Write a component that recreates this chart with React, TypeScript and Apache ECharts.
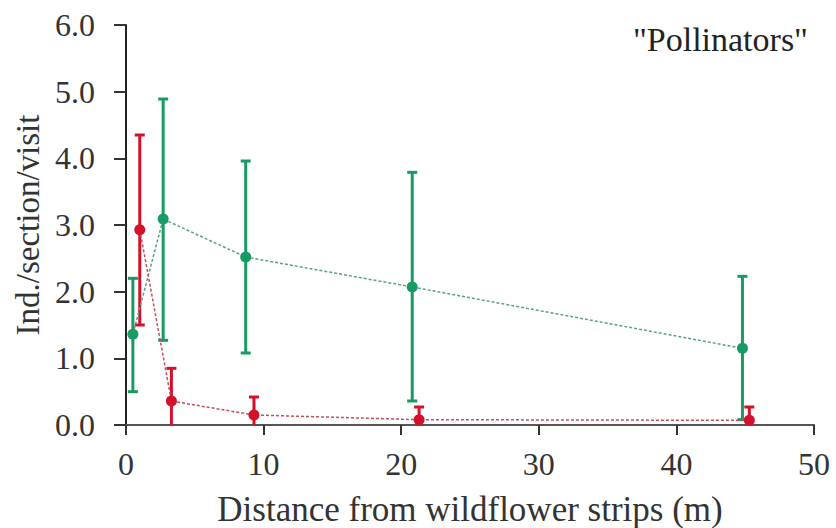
import React, { useEffect, useRef } from "react";
import * as echarts from "echarts";

const xTicks = [0, 10, 20, 30, 40, 50];
const yTicks = [0, 1, 2, 3, 4, 5, 6];

const greenX = [0.5, 2.7, 8.7, 20.8, 44.8];
const greenMean = [1.36, 3.09, 2.52, 2.07, 1.15];
const greenLow = [0.5, 1.27, 1.08, 0.36, 0.08];
const greenHigh = [2.2, 4.89, 3.96, 3.79, 2.23];

const redX = [1.0, 3.3, 9.3, 21.3, 45.3];
const redMean = [2.93, 0.36, 0.15, 0.08, 0.07];
const redLow = [1.5, 0, 0, 0, 0];
const redHigh = [4.35, 0.85, 0.42, 0.27, 0.27];

const GREEN = "#179a63";
const RED = "#d4112a";
const FONT = "Liberation Serif";

function errorSeries(name: string, xs: number[], lo: number[], hi: number[], color: string) {
  return {
    name,
    type: "custom",
    clip: false,
    z: 2,
    data: xs.map((x, i) => [x, lo[i], hi[i]]),
    encode: { x: 0, y: [1, 2] },
    renderItem: (params: any, api: any) => {
      const x = api.value(0);
      const l = api.value(1);
      const h = api.value(2);
      const top = api.coord([x, h]);
      const bot = api.coord([x, l]);
      const hw = 5;
      const st = { stroke: color, lineWidth: 3 };
      const children: any[] = [
        { type: "line", shape: { x1: top[0], y1: top[1], x2: bot[0], y2: bot[1] }, style: st },
        { type: "line", shape: { x1: top[0] - hw, y1: top[1], x2: top[0] + hw, y2: top[1] }, style: st },
      ];
      if (l > 0) {
        children.push({ type: "line", shape: { x1: bot[0] - hw, y1: bot[1], x2: bot[0] + hw, y2: bot[1] }, style: st });
      }
      return { type: "group", children };
    },
  };
}

function meanSeries(name: string, xs: number[], ys: number[], color: string, lineColor: string) {
  return {
    name,
    type: "line",
    z: 3,
    data: xs.map((x, i) => [x, ys[i]]),
    symbol: "circle",
    symbolSize: 11,
    itemStyle: { color },
    lineStyle: { color: lineColor, width: 1.5, type: [3, 2] },
  };
}

export default function App() {
  const ref = useRef<HTMLDivElement>(null);
  useEffect(() => {
    if (!ref.current) return;
    const chart = echarts.init(ref.current, null, { renderer: "svg" });
    chart.setOption({
      animation: false,
      backgroundColor: "#ffffff",
      textStyle: { fontFamily: FONT },
      grid: { left: 126, right: 22, top: 25, bottom: 103, outerBoundsMode: "none", containLabel: false },
      xAxis: {
        type: "value",
        min: xTicks[0],
        max: xTicks[xTicks.length - 1],
        interval: 10,
        name: "Distance from wildflower strips (m)",
        nameLocation: "middle",
        nameGap: 67,
        nameTextStyle: { fontFamily: FONT, fontSize: 35, color: "#333" },
        axisLine: { onZero: false, lineStyle: { color: "#555", width: 2 } },
        axisTick: { show: true, length: 10, lineStyle: { color: "#333", width: 2 } },
        axisLabel: { fontFamily: FONT, fontSize: 32, color: "#333", margin: 23 },
        splitLine: { show: false },
      },
      yAxis: {
        type: "value",
        min: yTicks[0],
        max: yTicks[yTicks.length - 1],
        interval: 1,
        name: "Ind./section/visit",
        nameLocation: "middle",
        nameRotate: 90,
        nameGap: 82,
        nameTextStyle: { fontFamily: FONT, fontSize: 33, color: "#333" },
        axisLine: { show: true, lineStyle: { color: "#222", width: 2 } },
        axisTick: { show: true, length: 12, lineStyle: { color: "#333", width: 2 } },
        axisLabel: { fontFamily: FONT, fontSize: 32, color: "#333", margin: 31, formatter: (v: number) => v.toFixed(1) },
        splitLine: { show: false },
      },
      graphic: [
        {
          type: "text",
          right: 28,
          top: 22,
          style: { text: '"Pollinators"', fontFamily: FONT, fontSize: 34, fill: "#222" },
        },
      ],
      series: [
        errorSeries("green-err", greenX, greenLow, greenHigh, GREEN),
        errorSeries("red-err", redX, redLow, redHigh, RED),
        meanSeries("green", greenX, greenMean, GREEN, "#5a9f88"),
        meanSeries("red", redX, redMean, RED, "#c4505c"),
      ],
    });
    return () => chart.dispose();
  }, []);
  return <div ref={ref} style={{ position: "fixed", left: 0, top: 0, width: 836, height: 528 }} />;
}
